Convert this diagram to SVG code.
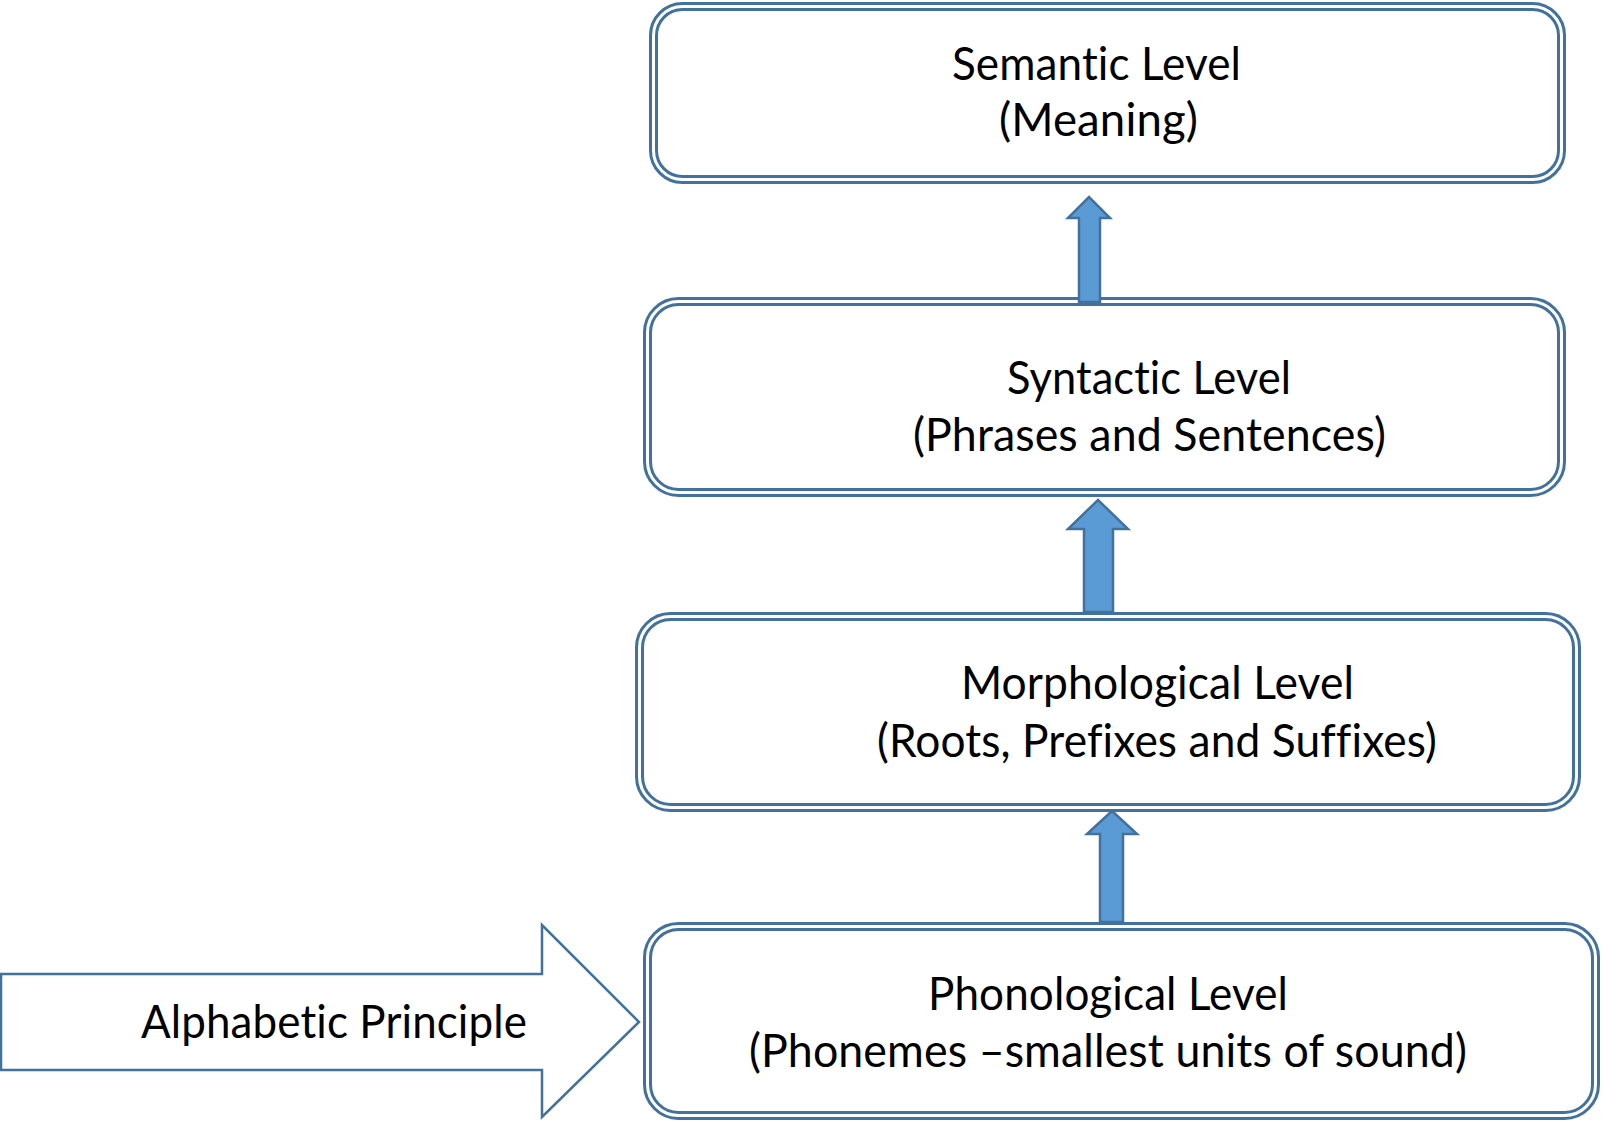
<svg xmlns="http://www.w3.org/2000/svg" width="1603" height="1121" viewBox="0 0 1603 1121">
<style>
.box-outer{fill:#ffffff;stroke:#41719C;stroke-width:9}
.box-gap{fill:none;stroke:#ffffff;stroke-width:3}
.up{fill:#5B9BD5;stroke:#41719C;stroke-width:2.5;stroke-linejoin:miter}
.big{fill:#ffffff;stroke:#41719C;stroke-width:2.5}
.t{font-family:Lato,"Open Sans","Liberation Sans",sans-serif;font-size:46px;fill:#000000;text-anchor:middle;font-variant-ligatures:none;font-feature-settings:"liga" 0,"clig" 0,"dlig" 0;letter-spacing:0.1px}
</style>
<rect width="1603" height="1121" fill="#ffffff"/>
<g id="semantic">
<rect class="box-outer" x="653.5" y="6.5" width="908" height="173" rx="29"/>
<rect class="box-gap" x="653.5" y="6.5" width="908" height="173" rx="29"/>
<text class="t" x="1096.5" y="80" textLength="289" lengthAdjust="spacingAndGlyphs">Semantic Level</text>
<text class="t" x="1098.5" y="136" textLength="199" lengthAdjust="spacingAndGlyphs">(Meaning)</text>
</g>
<g id="syntactic">
<rect class="box-outer" x="647.5" y="301.5" width="914" height="191" rx="31"/>
<rect class="box-gap" x="647.5" y="301.5" width="914" height="191" rx="31"/>
<text class="t" x="1149" y="394" textLength="284" lengthAdjust="spacingAndGlyphs">Syntactic Level</text>
<text class="t" x="1149.5" y="451" textLength="473" lengthAdjust="spacingAndGlyphs">(Phrases and Sentences)</text>
</g>
<g id="morphological">
<rect class="box-outer" x="639.5" y="616.5" width="937" height="191" rx="31"/>
<rect class="box-gap" x="639.5" y="616.5" width="937" height="191" rx="31"/>
<text class="t" x="1157.5" y="699" textLength="393" lengthAdjust="spacingAndGlyphs">Morphological Level</text>
<text class="t" x="1157" y="757" textLength="560" lengthAdjust="spacingAndGlyphs">(Roots, Prefixes and Suffixes)</text>
</g>
<g id="phonological">
<rect class="box-outer" x="647.5" y="926.5" width="948" height="189" rx="31"/>
<rect class="box-gap" x="647.5" y="926.5" width="948" height="189" rx="31"/>
<text class="t" x="1108" y="1010" textLength="360" lengthAdjust="spacingAndGlyphs">Phonological Level</text>
<text class="t" x="1108" y="1067" textLength="718" lengthAdjust="spacingAndGlyphs">(Phonemes –smallest units of sound)</text>
</g>
<g id="alphabetic-principle">
<polygon class="big" points="1,974 542,974 542,925 639,1022 542,1117 542,1070 1,1070"/>
<text class="t" x="334" y="1038" textLength="386" lengthAdjust="spacingAndGlyphs">Alphabetic Principle</text>
</g>
<g id="connectors">
<polygon class="up" points="1079,302 1079,218 1068,218 1089,197 1110,218 1100,218 1100,302"/>
<polygon class="up" points="1084,612 1084,529 1068,529 1098,500 1128,529 1113,529 1113,612"/>
<polygon class="up" points="1100,922 1100,834 1087,834 1112,811 1137,834 1123,834 1123,922"/>
</g>
</svg>
